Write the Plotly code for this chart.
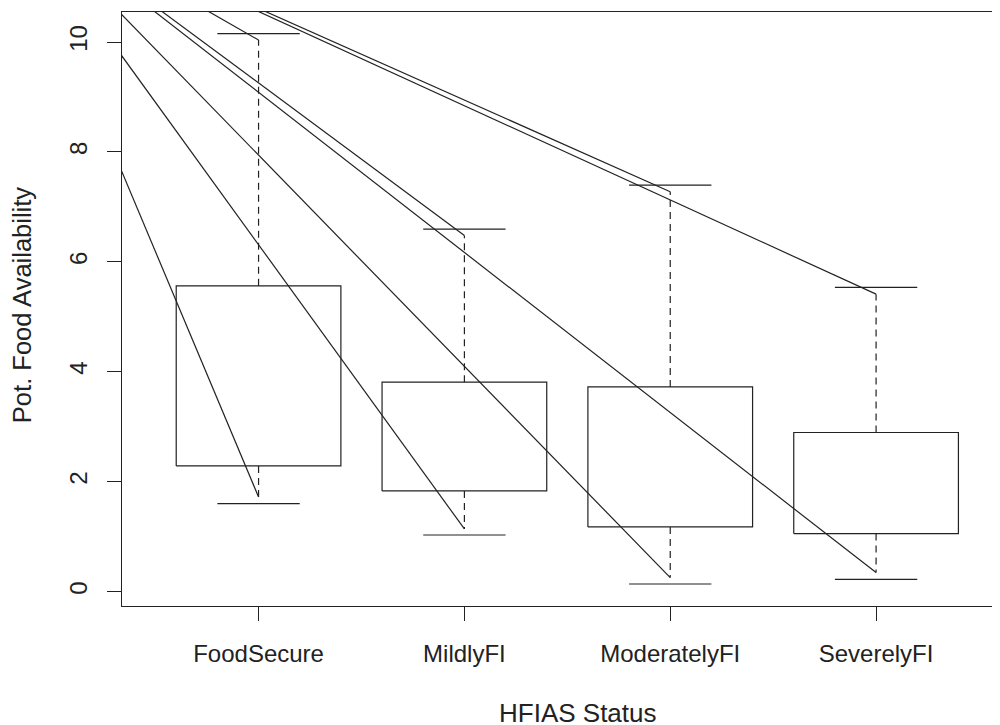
import plotly.graph_objects as go

# ---- data ----
categories = ["FoodSecure", "MildlyFI", "ModeratelyFI", "SeverelyFI"]
q1 = [2.287, 1.831, 1.176, 1.056]
q3 = [5.563, 3.810, 3.725, 2.895]
cap_lo = [1.602, 1.030, 0.138, 0.224]
cap_hi = [10.151, 6.596, 7.397, 5.534]
tip_lo = [1.722, 1.140, 0.255, 0.346]
tip_hi = [10.036, 6.481, 7.275, 5.412]
origin_x = -0.227
origin_y = 12.658
y_ticks = [0, 2, 4, 6, 8, 10]

INK = "#222222"
FONT = "Liberation Sans, Arial, Helvetica, sans-serif"
box_half = 0.4
cap_half = 0.2

fig = go.Figure()

for i, cat in enumerate(categories):
    xc = i + 1
    # box outline
    fig.add_trace(go.Scatter(
        x=[xc - box_half, xc + box_half, xc + box_half, xc - box_half, xc - box_half],
        y=[q1[i], q1[i], q3[i], q3[i], q1[i]],
        mode="lines", line=dict(color=INK, width=1.2), hoverinfo="skip", showlegend=False))
    # dashed whiskers
    fig.add_trace(go.Scatter(
        x=[xc, xc], y=[q3[i], tip_hi[i]], mode="lines",
        line=dict(color=INK, width=1.2, dash="7px,5px"), hoverinfo="skip", showlegend=False))
    fig.add_trace(go.Scatter(
        x=[xc, xc], y=[q1[i], tip_lo[i]], mode="lines",
        line=dict(color=INK, width=1.2, dash="7px,5px"), hoverinfo="skip", showlegend=False))
    # caps
    fig.add_trace(go.Scatter(
        x=[xc - cap_half, xc + cap_half], y=[cap_hi[i], cap_hi[i]], mode="lines",
        line=dict(color=INK, width=1.2), hoverinfo="skip", showlegend=False))
    fig.add_trace(go.Scatter(
        x=[xc - cap_half, xc + cap_half], y=[cap_lo[i], cap_lo[i]], mode="lines",
        line=dict(color=INK, width=1.2), hoverinfo="skip", showlegend=False))
    # diagonal lines from the common origin to whisker tips
    for tip in (tip_hi[i], tip_lo[i]):
        fig.add_trace(go.Scatter(
            x=[origin_x, xc], y=[origin_y, tip], mode="lines",
            line=dict(color=INK, width=1.2), hoverinfo="skip", showlegend=False))

# the page body has an 8px margin, so the figure is 8px smaller and margins are shifted
fig.update_layout(
    width=992, height=717,
    margin=dict(l=114, r=0, t=4, b=119, pad=0, autoexpand=False),
    plot_bgcolor="white", paper_bgcolor="white",
    font=dict(family=FONT, size=24, color=INK),
    showlegend=False,
    xaxis=dict(range=[0.3366, 4.602], tickvals=[1, 2, 3, 4], ticktext=categories,
               ticks="outside", ticklen=14, tickwidth=1.2, tickcolor=INK,
               ticklabelstandoff=12,
               showline=True, mirror=True, linecolor=INK, linewidth=1.2,
               showgrid=False, zeroline=False, fixedrange=True,
               tickfont=dict(family=FONT, size=24, color=INK)),
    yaxis=dict(range=[-0.262, 10.546], tickvals=y_ticks, ticktext=[str(v) for v in y_ticks],
               tickangle=-90, ticks="outside", ticklen=14, tickwidth=1.2, tickcolor=INK,
               ticklabelstandoff=10,
               showline=True, mirror=False, linecolor=INK, linewidth=1.2,
               showgrid=False, zeroline=False, fixedrange=True,
               tickfont=dict(family=FONT, size=24, color=INK)),
    annotations=[
        dict(text="HFIAS Status", xref="x", yref="paper", x=2.55, y=-0.1800,
             xanchor="center", yanchor="middle", showarrow=False,
             font=dict(family=FONT, size=26, color=INK)),
        dict(text="Pot. Food Availability", xref="paper", yref="paper", x=-0.1131, y=0.506,
             xanchor="center", yanchor="middle", textangle=-90, showarrow=False,
             font=dict(family=FONT, size=25.5, color=INK)),
    ],
)

fig.write_html("out.html")
